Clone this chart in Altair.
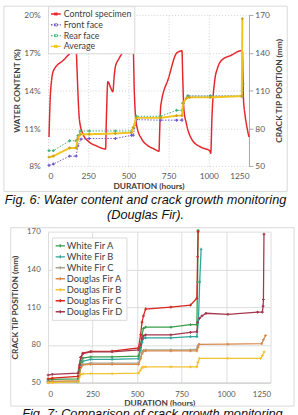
import altair as alt
import pandas as pd

LABEL_FONT = "Lato"
CAPTION_FONT = "Liberation Sans"
TICK_COLOR = "#595959"
TITLE_COLOR = "#404040"
GRID_COLOR = "#d0d0d0"
FRAME_COLOR = "#d9d9d9"

# ---------------- Fig. 6: Douglas Fir ----------------
# control specimen water content (%) over time (hours)
ctrl_t = [6, 14, 22, 35, 95, 154, 175, 180, 186, 195, 215, 256, 300, 358, 363,
          372, 390, 403, 412, 419, 440, 458, 490, 519, 530, 536, 545, 555, 580,
          622, 660, 690, 695, 701, 750, 802, 833, 838, 845, 860, 895, 950, 1006,
          1012, 1020, 1036, 1055, 1080, 1140, 1199, 1209, 1215, 1226, 1240, 1250]
ctrl_w = [10.3, 13.5, 14.8, 15.6, 16.4, 17.1, 17.2, 15.8, 13.8, 11.7, 10.6, 9.9,
          9.6, 9.35, 11.8, 14.7, 14.2, 13.9, 15.2, 15.9, 16.5, 16.9, 17.2, 17.3,
          17.3, 14.2, 11.8, 11.0, 10.2, 9.6, 9.35, 9.17, 11.0, 12.75, 15.0, 17.0,
          17.15, 15.0, 12.5, 11.4, 10.1, 9.5, 9.2, 9.0, 12.0, 14.7, 15.8, 16.4,
          16.8, 17.15, 17.15, 13.5, 12.0, 10.9, 10.3]

# crack tip position (mm) on each face and their average
front_t = [6, 33, 134, 175, 185, 205, 256, 419, 519, 530, 550, 700, 800, 833,
           840, 870, 1010, 1205, 1209]
front_mm = [50.5, 51.5, 57.8, 57.8, 66.0, 71.3, 71.8, 71.8, 74.4, 74.4, 86.8,
            86.4, 86.4, 86.4, 100.0, 105.6, 105.6, 105.6, 110.0]
rear_t = [6, 33, 134, 175, 185, 200, 256, 419, 519, 530, 550, 700, 800, 833,
          840, 870, 1010, 1205, 1209, 1212]
rear_mm = [62.2, 62.2, 70.0, 70.0, 74.0, 77.8, 77.8, 77.8, 77.8, 80.4, 89.5,
           89.5, 94.2, 94.2, 100.0, 105.5, 105.5, 105.5, 109.8, 115.4]
avg_t = [6, 33, 134, 175, 185, 200, 256, 419, 519, 530, 548, 700, 800, 833,
         840, 860, 880, 1010, 1205, 1209]
avg_mm = [57.0, 57.8, 64.3, 64.3, 71.3, 75.2, 75.2, 75.8, 76.5, 80.4, 88.2,
          88.2, 90.0, 90.0, 99.9, 103.8, 104.5, 104.5, 105.5, 167.0]

top_series = ["Control specimen", "Front face", "Rear face", "Average"]
top_colors = ["#e5262b", "#6f55c4", "#3fae6e", "#f2c31f"]
top_dashes = [[1, 0], [1.5, 1.5], [1.5, 1.5], [1, 0]]

# ---------------- Fig. 7: all specimens ----------------
early_t = [0, 24, 168, 176, 184, 196, 240, 360, 508, 520, 528, 536, 548, 690, 800, 836]

wfa_t = early_t + [840, 843]
wfa_mm = [52, 52.5, 53, 60, 66.5, 69.5, 70.5, 70.5, 71, 78, 88, 93, 94, 94, 96, 96,
          130, 171]
wfb_t = early_t + [845, 852, 860]
wfb_mm = [51, 51, 50.5, 56, 63, 67, 68.5, 68.5, 69, 76, 82, 85, 85.5, 85.5, 86.5,
          86.5, 100, 130, 156]
wfc_t = early_t + [842, 848]
wfc_mm = [50, 50.5, 51, 56, 62, 64.5, 65.5, 65.5, 65.5, 70, 74, 75.5, 76, 76, 76,
          76.5, 79, 80.5]
dfa_t = early_t + [842, 848, 1010, 1200, 1210, 1222]
dfa_mm = [50.5, 51, 51.5, 57, 62, 64, 64.5, 64.5, 64.5, 69, 73, 75, 75.2, 75.2,
          75.2, 75.3, 78, 80.3, 80.5, 80.9, 84, 87.4]
dfb_t = early_t + [842, 851, 1010, 1194, 1204, 1214]
dfb_mm = [50, 50, 50.5, 54, 56.5, 57, 57.2, 57.2, 57.5, 60, 62, 62.3, 62.5, 62.5,
          62.5, 62.5, 66, 69.2, 69.3, 69.3, 71.5, 74.4]
dfc_t = early_t + [840, 843]
dfc_mm = [53, 53.5, 55, 62, 70, 73.5, 74.8, 75, 77.5, 88, 98, 103, 108.5, 110,
          111.5, 117, 150, 170]
dfd_t = early_t + [840, 850, 865, 887, 1010, 1177, 1204, 1208, 1210, 1213]
dfd_mm = [56, 56.5, 57.5, 64, 70, 73, 74.5, 74.5, 76, 80, 85, 87, 88, 88, 90, 90.5,
          98, 101, 103, 105.1, 104.3, 106, 106, 110.8, 116, 168]

bottom_series = ["White Fir A", "White Fir B", "White Fir C", "Douglas Fir A",
                 "Douglas Fir B", "Douglas Fir C", "Douglas Fir D"]
bottom_colors = ["#3a9d4c", "#2ea59a", "#aaa58e", "#d98a4c", "#f2c232",
                 "#d7261e", "#a3384f"]
bottom_t = [wfa_t, wfb_t, wfc_t, dfa_t, dfb_t, dfc_t, dfd_t]
bottom_mm = [wfa_mm, wfb_mm, wfc_mm, dfa_mm, dfb_mm, dfc_mm, dfd_mm]

x_ticks = [0, 250, 500, 750, 1000, 1250]

MARKER_PATH = "M-1,0H1M-0.28,-0.28L0.28,0.28M-0.28,0.28L0.28,-0.28"
TICK_PATH = "M-1,0H1M0,-0.32V0.32"


def frame(x1, x2, y1, y2):
    """Light outline drawn round a whole figure panel."""
    return alt.Chart(pd.DataFrame({"f": [0]})).mark_rect(
        fill="transparent", stroke=FRAME_COLOR, strokeWidth=1
    ).encode(x=alt.value(x1), x2=alt.value(x2), y=alt.value(y1), y2=alt.value(y2))


def caption(lines):
    return alt.TitleParams(
        text=lines, orient="bottom", anchor="middle", frame="bounds",
        font=CAPTION_FONT, fontStyle="italic", fontWeight="normal",
        fontSize=13, lineHeight=16, offset=2, color="#111111",
    )


# ---------- top figure ----------
ctrl_df = pd.DataFrame({"t": ctrl_t, "w": ctrl_w, "series": top_series[0]})
faces_df = pd.concat([
    pd.DataFrame({"t": front_t, "mm": front_mm, "series": top_series[1]}),
    pd.DataFrame({"t": rear_t, "mm": rear_mm, "series": top_series[2]}),
])
avg_df = pd.DataFrame({"t": avg_t, "mm": avg_mm, "series": top_series[3]})

top_legend = alt.Legend(
    orient="none", legendX=0, legendY=-9, title=None, direction="vertical",
    fillColor="white", strokeColor=FRAME_COLOR, padding=2,
    labelFont=LABEL_FONT, labelFontSize=9, labelColor=TITLE_COLOR, labelOffset=2,
    symbolType=MARKER_PATH, symbolSize=100, symbolStrokeWidth=1.4, rowPadding=0,
)
color_top = alt.Color("series:N", scale=alt.Scale(domain=top_series, range=top_colors),
                      legend=top_legend)
dash_top = alt.StrokeDash("series:N", scale=alt.Scale(domain=top_series, range=top_dashes),
                          legend=top_legend)

x_top = alt.X(
    "t:Q", scale=alt.Scale(domain=[0, 1250], nice=False, zero=False),
    axis=alt.Axis(values=x_ticks, format="d", title="DURATION (hours)", grid=True,
                  gridDash=[1, 2], gridColor=GRID_COLOR, domain=False, ticks=False,
                  labelPadding=6, labelFontSize=8.5, titlePadding=2),
)
y_water = alt.Y(
    "w:Q", scale=alt.Scale(domain=[8, 20], nice=False, zero=False),
    axis=alt.Axis(orient="left", values=[8, 11, 14, 17, 20], labelExpr="datum.value + '%'",
                  title="WATER CONTENT (%)", grid=True, gridDash=[1, 2], gridColor=GRID_COLOR,
                  domain=False, ticks=False, labelPadding=8, labelFontSize=8.5, titlePadding=2),
)
y_crack = alt.Y(
    "mm:Q", scale=alt.Scale(domain=[50, 170], nice=False, zero=False),
    axis=alt.Axis(orient="right", values=[50, 80, 110, 140, 170],
                  title="CRACK TIP POSITION (mm)", grid=False, domain=True,
                  domainColor="#a6a6a6", ticks=True, tickColor="#a6a6a6", tickSize=4,
                  labelPadding=2, labelFontSize=8.5, titlePadding=5, titleAngle=270,
                  titleBaseline="top"),
)

ctrl_line = alt.Chart(ctrl_df).mark_line(strokeWidth=1.5, interpolate="monotone").encode(
    x=x_top, y=y_water, color=color_top, strokeDash=dash_top)
face_lines = alt.Chart(faces_df).mark_line(strokeWidth=1).encode(
    x=x_top, y=y_crack, color=color_top, strokeDash=dash_top)
face_pts = alt.Chart(faces_df).mark_point(shape="cross", filled=True, size=9, opacity=1).encode(
    x=x_top, y=y_crack, color=color_top)
avg_line = alt.Chart(avg_df).mark_line(strokeWidth=2).encode(
    x=x_top, y=y_crack, color=color_top, strokeDash=dash_top)
avg_pts = alt.Chart(avg_df).mark_point(shape="cross", filled=True, size=9, opacity=1).encode(
    x=x_top, y=y_crack, color=alt.value("#c9a21a"))

top_chart = alt.layer(
    frame(-45, 244, -9, 180),
    ctrl_line,
    alt.layer(face_lines, face_pts, avg_line, avg_pts),
).resolve_scale(y="independent").properties(
    width=205, height=154,
    title=caption(["Fig. 6: Water content and crack growth monitoring", "(Douglas Fir)."]),
)

# ---------- bottom figure ----------
bottom_df = pd.concat([
    pd.DataFrame({"t": t, "mm": mm, "specimen": name})
    for name, t, mm in zip(bottom_series, bottom_t, bottom_mm)
])

bot_legend = alt.Legend(
    orient="none", legendX=4, legendY=6, title=None, direction="vertical",
    fillColor="white", strokeColor=FRAME_COLOR, padding=3,
    labelFont=LABEL_FONT, labelFontSize=9.5, labelColor=TITLE_COLOR, labelOffset=1,
    symbolType=TICK_PATH, symbolSize=90, symbolStrokeWidth=1.4, rowPadding=1.2,
)
color_bot = alt.Color("specimen:N", scale=alt.Scale(domain=bottom_series, range=bottom_colors),
                      legend=bot_legend)
x_bot = alt.X(
    "t:Q", scale=alt.Scale(domain=[0, 1250], nice=False, zero=False),
    axis=alt.Axis(values=x_ticks, format="d", title="DURATION (hours)", grid=True,
                  gridColor="#dcdcdc", domain=True, domainColor="#c8c8c8", ticks=False,
                  labelPadding=8, labelFontSize=8, titlePadding=0),
)
y_bot = alt.Y(
    "mm:Q", scale=alt.Scale(domain=[50, 170], nice=False, zero=False),
    axis=alt.Axis(values=[50, 80, 110, 140, 170], title="CRACK TIP POSITION (mm)",
                  grid=True, gridColor="#dcdcdc", domain=False, ticks=False,
                  labelPadding=8, labelFontSize=8, titlePadding=7),
)

bot_lines = alt.Chart(bottom_df).mark_line(strokeWidth=1.3).encode(
    x=x_bot, y=y_bot, color=color_bot)
bot_pts = alt.Chart(bottom_df).mark_point(shape="cross", filled=True, size=8, opacity=1).encode(
    x=x_bot, y=y_bot, color=color_bot)

bottom_chart = alt.layer(
    frame(-38, 251, -4, 178), bot_lines, bot_pts,
).properties(
    width=227, height=154,
    title=caption(["Fig. 7: Comparison of crack growth monitoring"]),
)

chart = alt.vconcat(top_chart, bottom_chart, spacing=4).resolve_scale(
    color="independent", strokeDash="independent"
).properties(
    padding={"left": 3, "top": 1, "right": 3, "bottom": 0},
    background="white",
).configure_view(stroke=None).configure_axis(
    labelFont=LABEL_FONT, titleFont=LABEL_FONT, labelColor=TICK_COLOR,
    titleColor=TITLE_COLOR, titleFontWeight="bold", titleFontSize=8.5,
)

chart.save("out.html", embed_options={"renderer": "svg", "actions": False})
